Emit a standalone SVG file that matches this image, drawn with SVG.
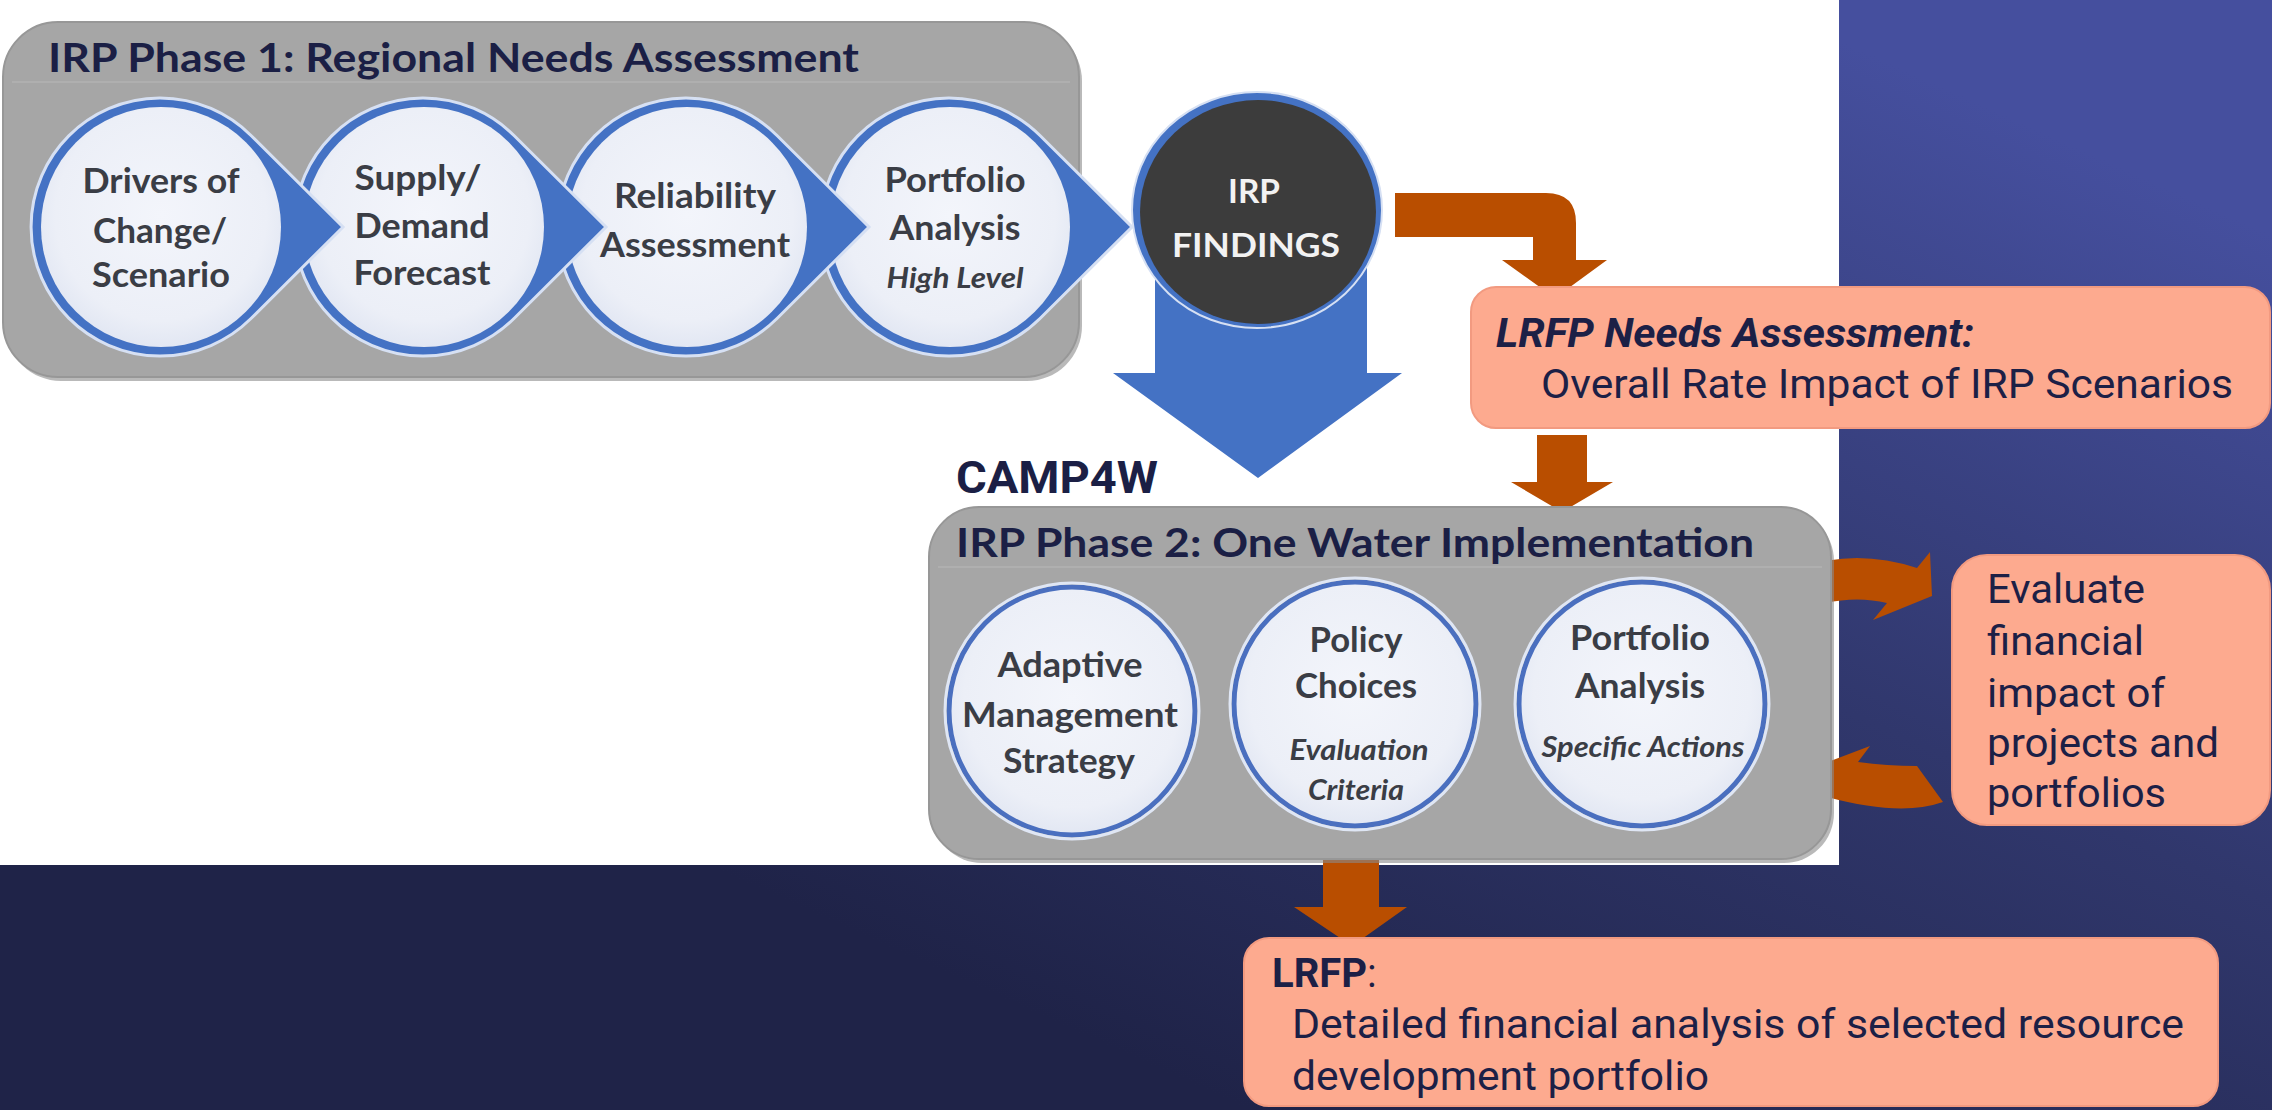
<svg xmlns="http://www.w3.org/2000/svg" width="2272" height="1110" viewBox="0 0 2272 1110">
<defs>
<linearGradient id="bg" gradientUnits="userSpaceOnUse" x1="1750" y1="0" x2="1250" y2="1110">
<stop offset="0" stop-color="#454f9e"/>
<stop offset="0.5" stop-color="#30376c"/>
<stop offset="1" stop-color="#1f2348"/>
</linearGradient>
<radialGradient id="inner" cx="0.5" cy="0.45" r="0.55">
<stop offset="0" stop-color="#f3f5fb"/>
<stop offset="0.8" stop-color="#eceff7"/>
<stop offset="1" stop-color="#e2e7f3"/>
</radialGradient>
<style>
.box{fill:#a6a6a6;stroke:#979797;stroke-width:2}
.shadow{fill:#8a8a8a;opacity:0.6}
.ring{fill:#4472c4;stroke:#d6e0f3;stroke-width:3}
.in{fill:url(#inner)}
.ring2{fill:url(#inner);stroke:#4a6fbf;stroke-width:5}
.glow{fill:none;stroke:#dfe6f4;stroke-width:3}
.title{font-family:Lato,"Open Sans","Liberation Sans",sans-serif;font-weight:700;font-size:41px;fill:#1b1f45}
.ct{font-family:Lato,"Open Sans","Liberation Sans",sans-serif;font-weight:700;font-size:35px;fill:#3a3d45;text-anchor:middle}
.ci{font-family:Lato,"Open Sans","Liberation Sans",sans-serif;font-weight:700;font-style:italic;font-size:28px;fill:#3a3d45;text-anchor:middle}
.wt{font-family:Lato,"Open Sans","Liberation Sans",sans-serif;font-weight:700;font-size:33px;fill:#f2f2f2;text-anchor:middle}
.salmon{fill:#fdaa8f;stroke:#f29a80;stroke-width:2}
.rb{font-family:Roboto,"Liberation Sans",sans-serif;font-size:40px;fill:#1c2046}
.or{fill:#b94e00}
.blue{fill:#4472c4}
.line{stroke:#b9b9b9;stroke-width:1.5;opacity:0.7}
</style>
</defs>

<rect x="0" y="0" width="2272" height="1110" fill="url(#bg)"/>
<rect x="0" y="0" width="1839" height="865" fill="#ffffff"/>

<g id="phase1">
<rect class="shadow" x="6" y="26" width="1076" height="355" rx="55"/>
<rect class="box" x="3" y="22" width="1076" height="355" rx="55"/>
<line class="line" x1="12" y1="82" x2="1070" y2="82"/>
<text class="title" x="48" y="72" textLength="811" lengthAdjust="spacingAndGlyphs">IRP Phase 1: Regional Needs Assessment</text>
</g>

<g id="p1-portfolio">
<path class="ring" d="M1040,135.5 L1132,227 L1040,318.5 A129,129 0 1 1 1040,135.5 Z"/>
<circle class="in" cx="950" cy="227" r="120"/>
<text class="ct" x="955" y="192" textLength="141" lengthAdjust="spacingAndGlyphs">Portfolio</text>
<text class="ct" x="955" y="240" textLength="131" lengthAdjust="spacingAndGlyphs">Analysis</text>
<text class="ci" x="955" y="288" textLength="137" lengthAdjust="spacingAndGlyphs">High Level</text>
</g>

<g id="p1-reliability">
<path class="ring" d="M777,135.5 L869,227 L777,318.5 A129,129 0 1 1 777,135.5 Z"/>
<circle class="in" cx="687" cy="227" r="120"/>
<text class="ct" x="695" y="208" textLength="162" lengthAdjust="spacingAndGlyphs">Reliability</text>
<text class="ct" x="695" y="257" textLength="190" lengthAdjust="spacingAndGlyphs">Assessment</text>
</g>

<g id="p1-supply">
<path class="ring" d="M514,135.5 L606,227 L514,318.5 A129,129 0 1 1 514,135.5 Z"/>
<circle class="in" cx="424" cy="227" r="120"/>
<text class="ct" x="418" y="190" textLength="127" lengthAdjust="spacingAndGlyphs">Supply/</text>
<text class="ct" x="422" y="238" textLength="135" lengthAdjust="spacingAndGlyphs">Demand</text>
<text class="ct" x="422" y="285" textLength="137" lengthAdjust="spacingAndGlyphs">Forecast</text>
</g>

<g id="p1-drivers">
<path class="ring" d="M251,135.5 L343,227 L251,318.5 A129,129 0 1 1 251,135.5 Z"/>
<circle class="in" cx="161" cy="227" r="120"/>
<text class="ct" x="161" y="193" textLength="157" lengthAdjust="spacingAndGlyphs">Drivers of</text>
<text class="ct" x="160" y="243" textLength="134" lengthAdjust="spacingAndGlyphs">Change/</text>
<text class="ct" x="161" y="287" textLength="138" lengthAdjust="spacingAndGlyphs">Scenario</text>
</g>

<g id="connectors">
<polygon id="blue-down" class="blue" points="1155,250 1367,250 1367,373 1402,373 1258,478 1113,373 1155,373"/>
<path id="or-findings-needs" class="or" d="M1395,193 L1546,193 Q1576,193 1576,223 L1576,260 L1607,260 L1555,298 L1502,260 L1533,260 L1533,237 L1395,237 Z"/>
<polygon id="or-needs-phase2" class="or" points="1537,435 1587,435 1587,482 1613,482 1562,512 1511,482 1537,482"/>
<polygon id="or-phase2-lrfp" class="or" points="1323,851 1379,851 1379,907 1407,907 1352,946 1294,907 1323,907"/>
<path id="or-phase2-eval" class="or" d="M1799,568 Q1856,548 1917,568 L1930,552 L1932,596 L1873,620 L1887,603 Q1858,596 1825,603 Z"/>
<path id="or-eval-phase2" class="or" d="M1917,766 Q1887,766 1858,762 L1870,746 L1812,768 L1812,813 L1827,797 Q1901,817 1943,802 Z"/>
</g>

<g id="irp-findings">
<ellipse cx="1257" cy="210" rx="125" ry="118" fill="#4472c4" stroke="#d6e0f3" stroke-width="2"/>
<ellipse cx="1258" cy="212" rx="118" ry="112" fill="#3c3c3c"/>
<text class="wt" x="1254" y="203" textLength="52" lengthAdjust="spacingAndGlyphs">IRP</text>
<text class="wt" x="1256" y="257" textLength="168" lengthAdjust="spacingAndGlyphs">FINDINGS</text>
</g>

<g id="camp4w">
<text x="956" y="493" font-family="Roboto,'Liberation Sans',sans-serif" font-weight="700" font-size="44" fill="#1b1f45" textLength="202" lengthAdjust="spacingAndGlyphs">CAMP4W</text>
</g>

<g id="phase2">
<rect class="shadow" x="932" y="511" width="902" height="352" rx="50"/>
<rect class="box" x="929" y="507" width="902" height="352" rx="50"/>
<line class="line" x1="938" y1="567" x2="1822" y2="567"/>
<text class="title" x="956" y="557" textLength="798" lengthAdjust="spacingAndGlyphs">IRP Phase 2: One Water Implementation</text>
</g>

<g id="p2-adaptive">
<ellipse class="ring2" cx="1072" cy="711" rx="123" ry="124"/>
<ellipse class="glow" cx="1072" cy="711" rx="127" ry="128"/>
<text class="ct" x="1070" y="677" textLength="145" lengthAdjust="spacingAndGlyphs">Adaptive</text>
<text class="ct" x="1070" y="727" textLength="216" lengthAdjust="spacingAndGlyphs">Management</text>
<text class="ct" x="1069" y="773" textLength="132" lengthAdjust="spacingAndGlyphs">Strategy</text>
</g>

<g id="p2-policy">
<ellipse class="ring2" cx="1355" cy="704" rx="121" ry="122"/>
<ellipse class="glow" cx="1355" cy="704" rx="125" ry="126"/>
<text class="ct" x="1356" y="652" textLength="93" lengthAdjust="spacingAndGlyphs">Policy</text>
<text class="ct" x="1356" y="698" textLength="122" lengthAdjust="spacingAndGlyphs">Choices</text>
<text class="ci" x="1359" y="760" textLength="139" lengthAdjust="spacingAndGlyphs">Evaluation</text>
<text class="ci" x="1356" y="800" textLength="96" lengthAdjust="spacingAndGlyphs">Criteria</text>
</g>

<g id="p2-portfolio">
<ellipse class="ring2" cx="1642" cy="704" rx="123" ry="122"/>
<ellipse class="glow" cx="1642" cy="704" rx="127" ry="126"/>
<text class="ct" x="1640" y="650" textLength="140" lengthAdjust="spacingAndGlyphs">Portfolio</text>
<text class="ct" x="1640" y="698" textLength="130" lengthAdjust="spacingAndGlyphs">Analysis</text>
<text class="ci" x="1643" y="757" textLength="203" lengthAdjust="spacingAndGlyphs">Specific Actions</text>
</g>

<g id="lrfp-needs">
<rect class="salmon" x="1471" y="287" width="799" height="141" rx="25"/>
<text class="rb" x="1496" y="347" font-weight="700" font-style="italic" textLength="478" lengthAdjust="spacingAndGlyphs">LRFP Needs Assessment:</text>
<text class="rb" x="1541" y="398" textLength="692" lengthAdjust="spacingAndGlyphs">Overall Rate Impact of IRP Scenarios</text>
</g>

<g id="evaluate">
<rect class="salmon" x="1952" y="555" width="318" height="270" rx="35"/>
<text class="rb" x="1987" y="603" textLength="158" lengthAdjust="spacingAndGlyphs">Evaluate</text>
<text class="rb" x="1987" y="655" textLength="157" lengthAdjust="spacingAndGlyphs">financial</text>
<text class="rb" x="1987" y="707" textLength="178" lengthAdjust="spacingAndGlyphs">impact of</text>
<text class="rb" x="1987" y="757" textLength="232" lengthAdjust="spacingAndGlyphs">projects and</text>
<text class="rb" x="1987" y="807" textLength="179" lengthAdjust="spacingAndGlyphs">portfolios</text>
</g>

<g id="lrfp">
<rect class="salmon" x="1244" y="938" width="974" height="168" rx="25"/>
<text class="rb" x="1272" y="987"><tspan font-weight="700">LRFP</tspan>:</text>
<text class="rb" x="1292" y="1038" textLength="892" lengthAdjust="spacingAndGlyphs">Detailed financial analysis of selected resource</text>
<text class="rb" x="1292" y="1090" textLength="417" lengthAdjust="spacingAndGlyphs">development portfolio</text>
</g>
</svg>
